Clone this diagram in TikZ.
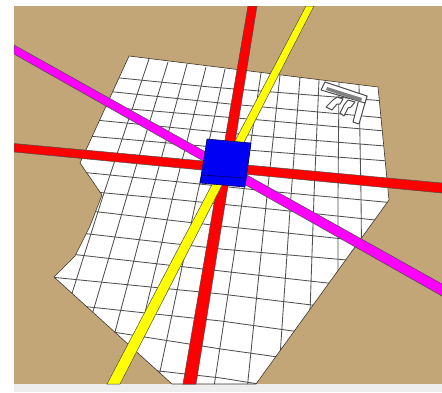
\documentclass[tikz,border=0pt]{standalone}
\definecolor{tan}{RGB}{195,166,120}
\definecolor{pagegray}{RGB}{238,238,238}
\definecolor{edgeink}{RGB}{60,50,40}
\definecolor{gridink}{RGB}{80,80,80}
\definecolor{roadred}{RGB}{255,0,0}
\definecolor{roadyellow}{RGB}{255,255,0}
\definecolor{roadmag}{RGB}{255,0,255}
\definecolor{boxblue}{RGB}{0,0,245}
\tikzset{
  gridline/.style={draw=gridink,line width=.85pt},
  road/.style={draw=black!70,line width=.5pt},
  boxface/.style={fill=boxblue,draw=black!60!blue,line width=.6pt,line join=round},
  bldg/.style={fill=white,draw=black!70,line width=1pt,line join=round}
}
\begin{document}
\begin{tikzpicture}[x=1pt,y=-1pt]
\useasboundingbox (0,0) rectangle (442,392);
\fill[white] (0,0) rectangle (442,392);
\fill[tan] (14,6) rectangle (442,384);
\fill[pagegray] (14,384) rectangle (442,392);
\def\lot{(129,56) -- (378,87) -- (389,200) -- (256,384) -- (172,384) -- (54,277) -- (75,256) -- (90,226) -- (102,195) -- (80,163) -- cycle}
\fill[white] \lot;
\begin{scope}
\clip \lot;
\foreach \tx/\ty/\mx/\bx in {149/59/103/38,168/62/127/67,187/64/151/97,206/67/173/124,225/69/197/154,243/71/220/183,261/73/243/212,280/75/267/246,300/77/291/277,319/80/314/307,339/82/338/338,359/85/361/363}
  \draw[gridline] (\tx,\ty) -- (\mx,196) -- (\bx,400);
\draw[gridline] (110,77) -- (210,87) -- (260,91) -- (385,101);
\draw[gridline] (105,91) -- (230,104) -- (385,118);
\draw[gridline] (100,106) -- (130,109) -- (260,120) -- (385,131);
\draw[gridline] (95,120) -- (260,136) -- (385,146);
\draw[gridline] (88,136) -- (260,151) -- (388,161);
\draw[gridline] (80,152) -- (260,168) -- (390,179);
\draw[gridline] (80,172) -- (180,182) -- (277,192) -- (395,203);
\draw[gridline] (95,192) -- (180,200) -- (270,209) -- (385,221);
\draw[gridline] (90,211) -- (221,226) -- (353,240) -- (370,243);
\draw[gridline] (80,233) -- (221,249) -- (347,260) -- (360,262);
\draw[gridline] (70,254) -- (221,271) -- (345,285);
\draw[gridline] (50,277) -- (221,294) -- (320,306);
\draw[gridline] (80,306) -- (221,321) -- (300,332);
\draw[gridline] (100,330) -- (221,349) -- (285,358);
\draw[gridline] (150,370) -- (221,378) -- (265,385);
\end{scope}
\draw[edgeink,line width=.6pt] \lot;
% building
\draw[bldg] (367,96) -- (359,124) -- (353,122) -- (359,99) -- cycle;
\draw[bldg] (337,97) -- (343,99) -- (340,104) -- (337,104) -- (332,110) -- (326,107) -- (333,100) -- cycle;
\draw[bldg] (348,100) -- (355,102) -- (351,107) -- (348,108) -- (344,116) -- (340,113) -- (344,105) -- cycle;
\draw[bldg] (325,82) -- (367,96) -- (365,103) -- (321,90) -- cycle;
\fill[gray] (327,87) -- (362,98) -- (361,102) -- (326,90) -- cycle;
% roads
\begin{scope}
\clip (14,6) rectangle (442,384);
\draw[road,fill=roadred] (248,6) -- (257,6) -- (196,384) -- (183,384) -- cycle;
\draw[road,fill=roadyellow] (306,6) -- (314,6) -- (120,384) -- (107,384) -- cycle;
\draw[road,fill=roadmag] (14,45) -- (14,54) -- (442,296) -- (442,284) -- cycle;
\draw[road,fill=roadred] (14,143.5) -- (14,152) -- (442,193) -- (442,183) -- cycle;
\end{scope}
% central box
\draw[boxface] (207,139) -- (251,143) -- (245,187) -- (200,183) -- cycle;
\draw[black!60!blue,line width=.6pt] (201,175) -- (245,178);
\end{tikzpicture}
\end{document}
